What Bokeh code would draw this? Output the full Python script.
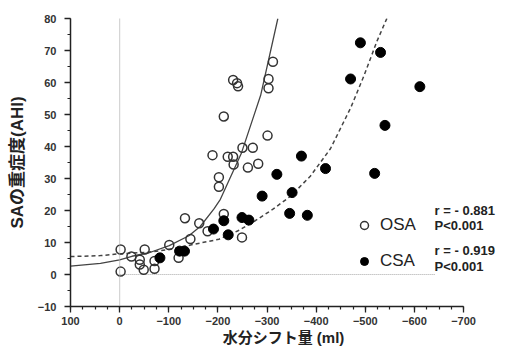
from bokeh.plotting import figure
from bokeh.models import (Range1d, SingleIntervalTicker, Span, Label, Legend, LegendItem)
from bokeh.embed import file_html
from bokeh.resources import INLINE

# ---------------- data ----------------
osa_x = [-2, -2, -24, -41, -41, -49, -51, -71, -71, -101, -120, -133, -144, -162,
         -179, -189, -202, -202, -212, -212, -220, -231, -232, -250, -261, -271,
         -282, -301, -231, -239, -241, -303, -303, -312, -249]
osa_y = [7.8, 0.9, 5.6, 4.6, 3.1, 1.5, 7.8, 4.2, 1.8, 9.2, 5.2, 17.6, 11.1, 16.0,
         13.5, 37.3, 30.4, 27.4, 49.4, 18.9, 36.8, 36.8, 34.4, 39.6, 33.4, 39.6,
         34.6, 43.4, 60.8, 59.8, 58.8, 61.1, 58.2, 66.5, 11.6]

csa_x = [-82, -122, -132, -191, -212, -221, -249, -263, -290, -320, -346, -351,
         -370, -382, -419, -470, -490, -519, -531, -540, -611]
csa_y = [5.2, 7.3, 7.3, 14.2, 16.8, 12.4, 17.8, 17.0, 24.5, 31.3, 19.1, 25.6,
         37.0, 18.5, 33.1, 61.1, 72.4, 31.6, 69.4, 46.6, 58.7]

# fitted curves
osa_curve_x = [100, 39, 0, -25, -60, -101, -141, -164, -192, -205, -248, -287, -322]
osa_curve_y = [2.6, 3.5, 4.6, 5.7, 6.8, 9.0, 12.1, 15.0, 20.5, 23.5, 38.0, 56.0, 80.0]

csa_curve_x = [100, 39, 5, -60, -100, -160, -202, -240, -276, -312, -348, -388,
               -429, -470, -497, -524, -548]
csa_curve_y = [5.6, 5.9, 6.4, 7.0, 7.8, 9.7, 11.0, 13.6, 16.8, 20.4, 24.5, 30.7,
               39.3, 52.0, 62.0, 73.0, 81.5]

legend_labels = ["OSA", "CSA"]
stats_texts = ["r = - 0.881", "P<0.001", "r = - 0.919", "P<0.001"]
stats_y = [19.9, 15.2, 7.5, 2.6]
stats_x = -641
zero_line_end = -643

x_label = "水分シフト量 (ml)"
y_label = "SAの重症度(AHI)"

FONT = "Liberation Sans, Noto Sans CJK JP"
DARK = "#222222"

p = figure(width=496, height=348, output_backend="svg", toolbar_location=None,
           x_range=Range1d(100, -767), y_range=Range1d(-10, 80),
           min_border_left=70, min_border_right=0, min_border_top=18,
           min_border_bottom=41)
p.outline_line_color = None
p.grid.visible = False
p.background_fill_color = "white"

# reference lines
p.add_layout(Span(location=0, dimension="height", line_color="#a8a8a8",
                  line_dash="1 1", line_width=1.2))
p.segment(x0=[0], y0=[0], x1=[zero_line_end], y1=[0], line_color="#a8a8a8",
          line_dash="1 1", line_width=1.2)

# curves
p.line(osa_curve_x, osa_curve_y, line_color="#444444", line_width=1.3)
p.line(csa_curve_x, csa_curve_y, line_color="#444444", line_width=1.5,
       line_dash="4 3")

# points
r_osa = p.scatter(osa_x, osa_y, size=9, fill_color="white", fill_alpha=0,
                  line_color="#333333", line_width=1.5)
r_csa = p.scatter(csa_x, csa_y, size=10, fill_color="black", line_color="black")

# axes
for ax in (p.xaxis[0], p.yaxis[0]):
    ax.axis_line_color = DARK
    ax.axis_line_width = 1.5
    ax.major_tick_line_color = DARK
    ax.minor_tick_line_color = DARK
    ax.major_tick_line_width = 1.3
    ax.minor_tick_line_width = 1.2
    ax.major_tick_out = 6
    ax.major_tick_in = 0
    ax.minor_tick_out = 3
    ax.minor_tick_in = 0
    ax.major_label_text_font = FONT
    ax.major_label_text_font_style = "bold"
    ax.major_label_text_font_size = "11px"
    ax.major_label_text_color = "#333333"
    ax.axis_label_text_font = FONT
    ax.axis_label_text_font_style = "bold"
    ax.axis_label_text_color = "#222222"

p.xaxis[0].ticker = SingleIntervalTicker(interval=100, num_minor_ticks=4)
p.yaxis[0].ticker = SingleIntervalTicker(interval=10, num_minor_ticks=2)
p.xaxis[0].bounds = (100, -700)
p.xaxis[0].axis_label = x_label
p.yaxis[0].axis_label = y_label
p.xaxis[0].axis_label_text_font_size = "15px"
p.yaxis[0].axis_label_text_font_size = "17px"
p.xaxis[0].major_label_standoff = 4
p.yaxis[0].major_label_standoff = 8
p.xaxis[0].axis_label_standoff = 1
p.yaxis[0].axis_label_standoff = 8

# legend
legend = Legend(items=[LegendItem(label=legend_labels[0], renderers=[r_osa]),
                       LegendItem(label=legend_labels[1], renderers=[r_csa])],
                location=(284, 35), orientation="vertical",
                border_line_color=None, background_fill_alpha=0,
                padding=0, margin=0, spacing=16,
                glyph_width=20, glyph_height=20, label_height=20,
                label_standoff=6,
                label_text_font=FONT, label_text_font_size="17px",
                label_text_color="#222222")
p.add_layout(legend, "center")

for t, yy in zip(stats_texts, stats_y):
    p.add_layout(Label(x=stats_x, y=yy, text=t, text_font=FONT,
                       text_font_style="bold", text_font_size="13px",
                       text_color="#222222", text_baseline="middle"))

open("out.html", "w").write(file_html(p, INLINE))
